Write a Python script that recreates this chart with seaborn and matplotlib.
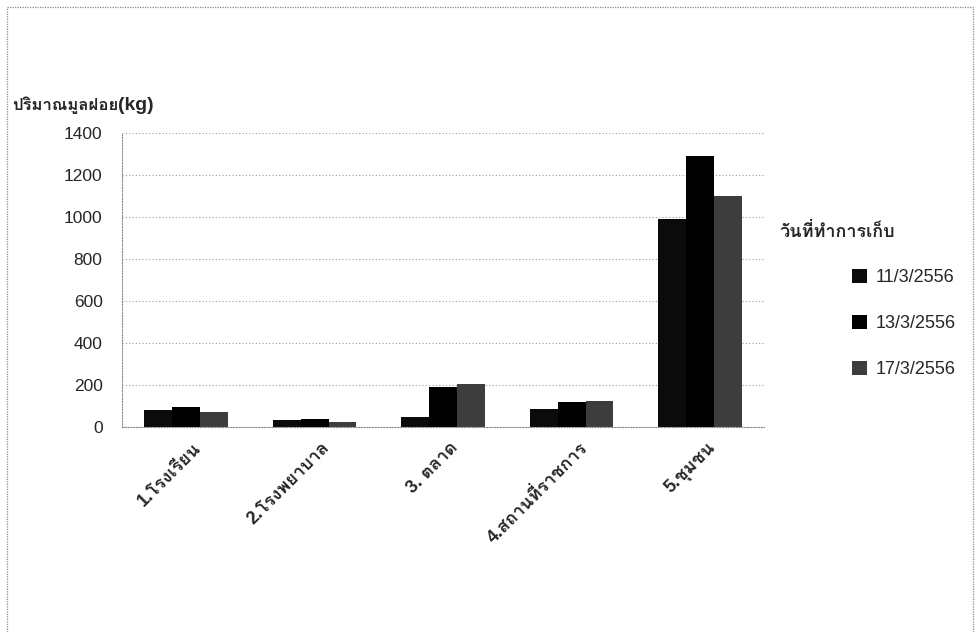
import matplotlib
matplotlib.use('Agg')
import matplotlib.pyplot as plt
from matplotlib import font_manager
from matplotlib.ft2font import FT2Font
import seaborn as sns
import pandas as pd

categories = ['1.โรงเรียน', '2.โรงพยาบาล', '3. ตลาด', '4.สถานที่ราชการ', '5.ชุมชน']
dates = ['11/3/2556', '13/3/2556', '17/3/2556']
waste_11 = [81, 32, 47, 86, 990]
waste_13 = [97, 40, 190, 118, 1290]
waste_17 = [72, 26, 203, 122, 1100]
y_ticks = [0, 200, 400, 600, 800, 1000, 1200, 1400]
y_title = 'ปริมาณมูลฝอย'
y_unit = '(kg)'
legend_title = 'วันที่ทำการเก็บ'
bar_colors = ['#0b0b0b', '#000000', '#3d3d3d']


# find an installed font that has Thai glyphs
def find_thai_font():
    seen = set()
    for f in font_manager.fontManager.ttflist:
        if f.name in seen:
            continue
        try:
            cmap = FT2Font(f.fname).get_charmap()
        except Exception:
            continue
        if 0x0E01 in cmap and 0x0E40 in cmap:
            return f.name
        seen.add(f.name)
    return None


sns.set_style('white')
thai = find_thai_font()
families = ['Liberation Sans'] + ([thai] if thai else []) + ['DejaVu Sans']
plt.rcParams['font.family'] = families

df = pd.DataFrame({
    'category': categories * 3,
    'date': [d for d in dates for _ in categories],
    'value': waste_11 + waste_13 + waste_17,
})

fig = plt.figure(figsize=(9.8, 6.32), dpi=100)
ax = fig.add_axes([0.1245, 0.3244, 0.6555, 0.4652])

sns.barplot(data=df, x='category', y='value', hue='date', hue_order=dates,
            order=categories, palette=bar_colors, width=0.65, gap=0,
            saturation=1, errorbar=None, ax=ax, legend=True,
            linewidth=0, edgecolor='none')

ax.set_ylim(0, 1400)
ax.set_yticks(y_ticks)
ax.set_yticklabels([str(v) for v in y_ticks], fontsize=12.5)
ax.set_xlim(-0.5, len(categories) - 0.5)
ax.set_xlabel('')
ax.set_ylabel('')
ax.yaxis.grid(True, color='#9a9a9a', linestyle=(0, (1, 2)), linewidth=0.8)
ax.set_axisbelow(True)

for side in ['top', 'right']:
    ax.spines[side].set_visible(False)
ax.spines['left'].set_color('#8a8a8a')
ax.spines['left'].set_linestyle((0, (1, 1.5)))
ax.spines['bottom'].set_color('#8a8a8a')
ax.spines['bottom'].set_linestyle((0, (1, 1.5)))

ax.tick_params(axis='y', length=0, pad=14)
ax.set_xticks([i + 0.05 for i in range(len(categories))])
ax.set_xticklabels(categories, rotation=45, ha='right', rotation_mode='anchor',
                   fontsize=13, fontweight='bold')
ax.tick_params(axis='x', length=0, pad=9)
ax.set_xticks([i - 0.5 for i in range(len(categories) + 1)], minor=True)
ax.tick_params(axis='x', which='minor', length=5, color='#8a8a8a', width=0.8)

# legend on the right
handles, labels = ax.get_legend_handles_labels()
ax.get_legend().remove()
fig.legend(handles, labels, loc='upper left', bbox_to_anchor=(0.853, 0.6),
           frameon=False, fontsize=13, labelspacing=1.6, handlelength=0.8,
           handleheight=0.8, handletextpad=0.5)
fig.text(0.795, 0.625, legend_title, fontsize=13, fontweight='bold')

fig.text(0.012, 0.826, y_title, fontsize=12, fontweight='bold')
fig.text(0.1205, 0.826, y_unit, fontsize=14, fontweight='bold')

# scanned frame around the chart
frame_kw = dict(color='#8a8a8a', linewidth=0.9, linestyle=(0, (1, 1)),
                transform=fig.transFigure, clip_on=False)
fig.add_artist(plt.Line2D([0.007, 0.993], [0.989, 0.989], **frame_kw))
fig.add_artist(plt.Line2D([0.007, 0.007], [0.0, 0.989], **frame_kw))
fig.add_artist(plt.Line2D([0.993, 0.993], [0.0, 0.989], **frame_kw))

fig.savefig('out.png', dpi=100)
